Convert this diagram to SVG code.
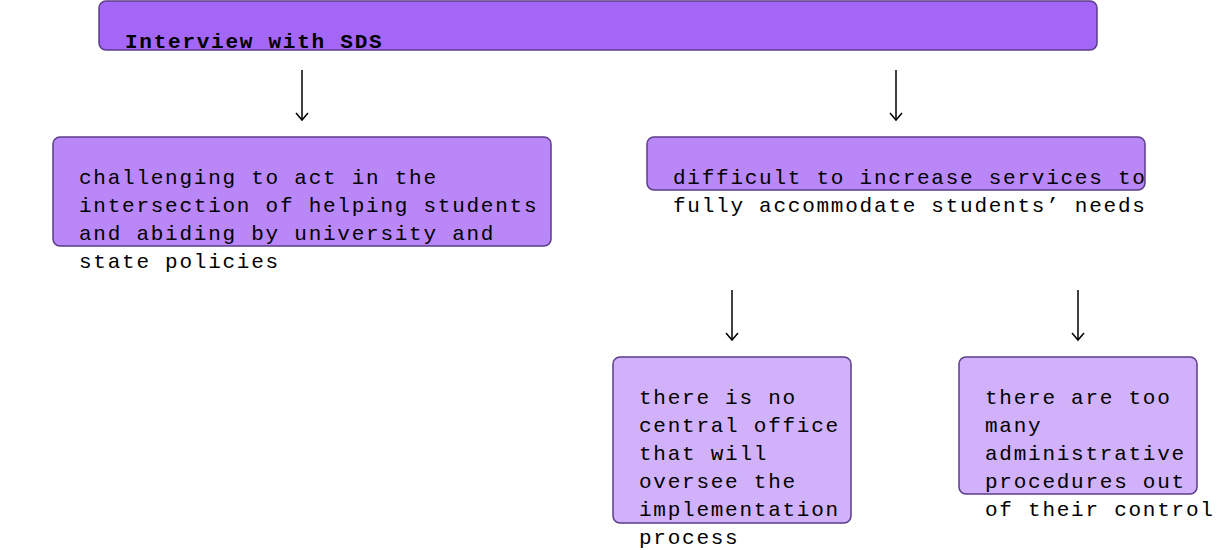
<svg xmlns="http://www.w3.org/2000/svg" width="1224" height="550" viewBox="0 0 1224 550">
<style>
.box{stroke:#5c3d8a;stroke-width:1.5}
.l1{fill:#a466f6}
.l2{fill:#b987f8}
.l3{fill:#d1b1fa}
text{font-family:"Liberation Mono","Courier New",monospace;font-size:21px;letter-spacing:1.75px;fill:#000}
.b{font-weight:bold}
.conn{stroke:#000;stroke-width:1.5;fill:none}
</style>
<defs>
<marker id="arr" markerWidth="12" markerHeight="14" refX="9" refY="7" orient="auto" markerUnits="userSpaceOnUse" viewBox="0 0 12 14">
<path d="M2,1 L9,7 L2,13" fill="none" stroke="#000" stroke-width="1.5"/>
</marker>
</defs>
<g id="connectors">
<line class="conn" x1="302" y1="70" x2="302" y2="120" marker-end="url(#arr)"/>
<line class="conn" x1="896" y1="70" x2="896" y2="120" marker-end="url(#arr)"/>
<line class="conn" x1="732" y1="290" x2="732" y2="340" marker-end="url(#arr)"/>
<line class="conn" x1="1078" y1="290" x2="1078" y2="340" marker-end="url(#arr)"/>
</g>
<g id="root">
<rect class="box l1" x="99" y="1" width="998" height="49" rx="7"/>
<text class="b" x="125" y="48">Interview with SDS</text>
</g>
<g id="challenging">
<rect class="box l2" x="53" y="137" width="498" height="109" rx="7"/>
<text x="79" y="184">challenging to act in the</text>
<text x="79" y="212">intersection of helping students</text>
<text x="79" y="240">and abiding by university and</text>
<text x="79" y="268">state policies</text>
</g>
<g id="difficult">
<rect class="box l2" x="647" y="137" width="498" height="53" rx="7"/>
<text x="673" y="184">difficult to increase services to</text>
<text x="673" y="212">fully accommodate students’ needs</text>
</g>
<g id="central">
<rect class="box l3" x="613" y="357" width="238" height="166" rx="7"/>
<text x="639" y="404">there is no</text>
<text x="639" y="432">central office</text>
<text x="639" y="460">that will</text>
<text x="639" y="488">oversee the</text>
<text x="639" y="516">implementation</text>
<text x="639" y="544">process</text>
</g>
<g id="procedures">
<rect class="box l3" x="959" y="357" width="238" height="137" rx="7"/>
<text x="985" y="404">there are too</text>
<text x="985" y="432">many</text>
<text x="985" y="460">administrative</text>
<text x="985" y="488">procedures out</text>
<text x="985" y="516">of their control</text>
</g>
</svg>
